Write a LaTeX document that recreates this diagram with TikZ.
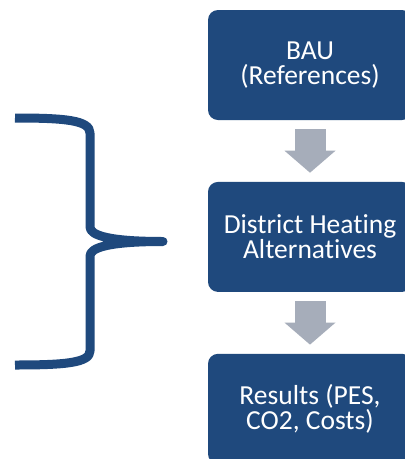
\documentclass[tikz,border=0pt]{standalone}
\usepackage{fontspec}
\setmainfont{Carlito}[Ligatures={NoCommon,NoContextual}]
\usetikzlibrary{positioning,arrows.meta}
\definecolor{stage color}{HTML}{1F497D}
\definecolor{flow color}{HTML}{A6ADBA}
\tikzset{
    x={1pt},
    y={-1pt},
    stage/.style={
        fill=stage color,
        draw=none,
        rounded corners={10pt},
        minimum width={204pt},
        minimum height={110pt},
        inner sep=0pt,
        align=center,
        text=white,
        font={\fontsize{27.5}{25}\selectfont},
    },
    flow/.style={
        draw=flow color,
        line width={31pt},
        shorten <={9pt},
        shorten >={9pt},
        -{Triangle[width=51pt,length=22pt,line width=0pt]},
    },
    brace/.style={
        draw=stage color,
        line width={9pt},
        line join=round,
    },
}

\begin{document}
\begin{tikzpicture}
% background
\useasboundingbox[fill=white] (0,0) rectangle (405,459);
% stages
\node[stage] (bau) at (310,65) {BAU\\(References)};
\node[stage, below=61.5pt of bau] (dh) {District Heating\\Alternatives};
\node[stage, below=61.5pt of dh] (res) {Results (PES,\\CO2, Costs)};
% flows
\draw[flow] (bau) -- (dh);
\draw[flow] (dh) -- (res);
% brace
\coordinate (tip) at (163,241.5);
\draw[brace] (15,118) .. controls (64,118) and (90,120) .. (90,133)
    -- (90,227) .. controls (90,236) and (112,241.5) .. (tip)
    .. controls (112,241.5) and (90,247) .. (90,256)
    -- (90,351) .. controls (90,363) and (64,365) .. (15,365);
\end{tikzpicture}
\end{document}
